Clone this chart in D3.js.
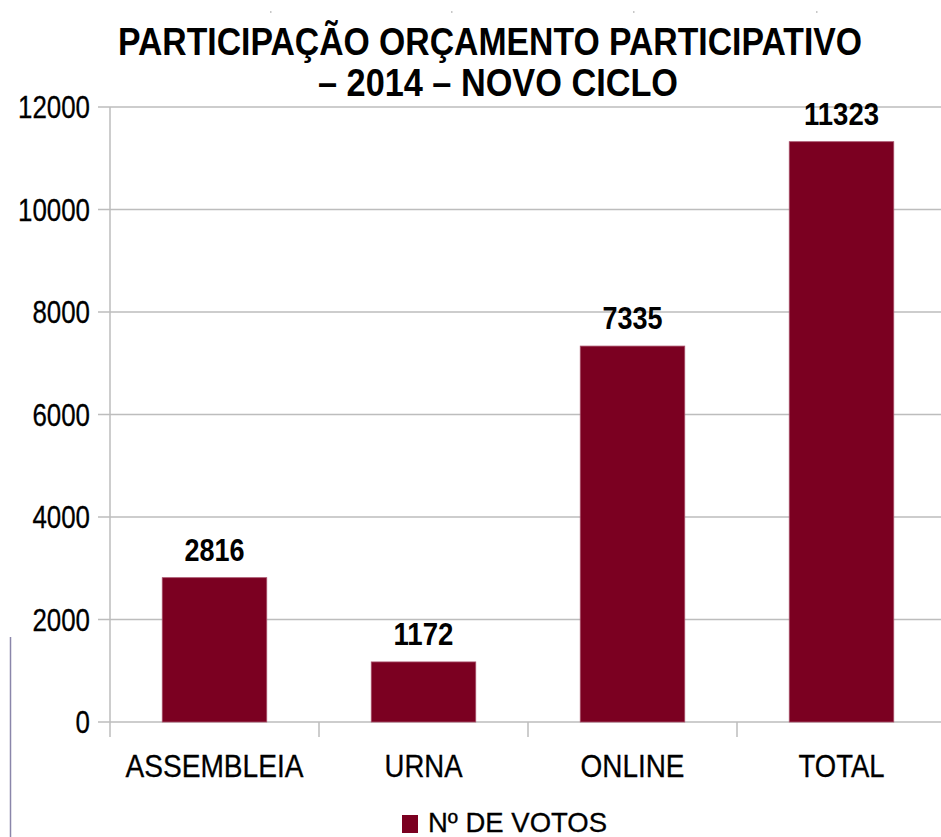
<!DOCTYPE html>
<html><head><meta charset="utf-8">
<script src="https://cdn.jsdelivr.net/npm/d3@7"></script>
<style>body{margin:0;background:#fff;}svg{display:block;font-family:"Liberation Sans",Arial,sans-serif;}</style>
</head><body>
<svg id="c" width="941" height="837"></svg>
<script>
const categories = ["ASSEMBLEIA", "URNA", "ONLINE", "TOTAL"];
const votes = [2816, 1172, 7335, 11323];
const yTicks = [0, 2000, 4000, 6000, 8000, 10000, 12000];
const titleLines = ["PARTICIPAÇÃO ORÇAMENTO PARTICIPATIVO", "– 2014 – NOVO CICLO"];
const seriesName = "Nº DE VOTOS";

const svg = d3.select("#c");
const barColor = "#7b0021";
const gridColor = "#bdbdbd";

const x = d3.scaleBand().domain(categories).range([110, 946]).paddingInner(0.5).paddingOuter(0.25);
const y = d3.scaleLinear().domain([0, 12000]).range([722, 107]);

svg.append("rect").attr("width", 941).attr("height", 837).attr("fill", "#fff");

// faint marks at the top edge (scan artifacts)
svg.append("g").selectAll("rect").data([270, 451, 633, 816]).join("rect")
  .attr("x", d => d).attr("y", 11).attr("width", 1.5).attr("height", 2).attr("fill", "#c8c8c8");

// gridlines
svg.append("g").selectAll("line").data(yTicks).join("line")
  .attr("x1", 98).attr("x2", 941)
  .attr("y1", d => y(d)).attr("y2", d => y(d))
  .attr("stroke", gridColor).attr("stroke-width", 1.5);

// y axis line
svg.append("line").attr("x1", 110).attr("x2", 110).attr("y1", y(12000)).attr("y2", 737)
  .attr("stroke", gridColor).attr("stroke-width", 1.5);

// category separator ticks
const step = x.step();
svg.append("g").selectAll("line").data(categories.slice(1)).join("line")
  .attr("x1", d => x(d) - (x.paddingInner() * step) / 2)
  .attr("x2", d => x(d) - (x.paddingInner() * step) / 2)
  .attr("y1", y(0)).attr("y2", 737)
  .attr("stroke", gridColor).attr("stroke-width", 1.5);

// y tick labels
svg.append("g").selectAll("text").data(yTicks).join("text")
  .attr("x", 90).attr("y", d => y(d) + 11)
  .attr("text-anchor", "end").attr("font-size", 31)
  .attr("textLength", d => String(d).length * 14.4).attr("lengthAdjust", "spacingAndGlyphs")
  .attr("stroke", "#000").attr("stroke-width", 0.3)
  .attr("fill", "#000").text(d => d);

// bars
svg.append("g").selectAll("rect").data(votes).join("rect")
  .attr("x", (d, i) => x(categories[i])).attr("width", x.bandwidth())
  .attr("y", d => y(d)).attr("height", d => y(0) - y(d))
  .attr("fill", barColor).attr("stroke", "#a8506a").attr("stroke-width", 0.8);

// value labels
svg.append("g").selectAll("text").data(votes).join("text")
  .attr("x", (d, i) => x(categories[i]) + x.bandwidth() / 2)
  .attr("y", d => y(d) - 17)
  .attr("text-anchor", "middle").attr("font-size", 31).attr("font-weight", "bold")
  .attr("textLength", d => String(d).length * 15).attr("lengthAdjust", "spacingAndGlyphs")
  .attr("fill", "#000").text(d => d);

// category labels
const catW = {"ASSEMBLEIA": 178, "URNA": 78, "ONLINE": 104, "TOTAL": 86};
svg.append("g").selectAll("text").data(categories).join("text")
  .attr("x", d => x(d) + x.bandwidth() / 2).attr("y", 777)
  .attr("text-anchor", "middle").attr("font-size", 32)
  .attr("textLength", d => catW[d]).attr("lengthAdjust", "spacingAndGlyphs")
  .attr("stroke", "#000").attr("stroke-width", 0.3)
  .attr("fill", "#000").text(d => d);

// title
const tW = [744, 360];
svg.append("g").selectAll("text").data(titleLines).join("text")
  .attr("x", (d, i) => i === 0 ? 490 : 498).attr("y", (d, i) => 55 + i * 41)
  .attr("text-anchor", "middle").attr("font-size", 38).attr("font-weight", "bold")
  .attr("textLength", (d, i) => tW[i]).attr("lengthAdjust", "spacingAndGlyphs")
  .attr("fill", "#000").text(d => d);

// legend
svg.append("rect").attr("x", 402).attr("y", 815).attr("width", 16).attr("height", 18).attr("fill", barColor);
svg.append("text").attr("x", 428).attr("y", 832).attr("font-size", 28)
  .attr("textLength", 179).attr("lengthAdjust", "spacingAndGlyphs")
  .attr("stroke", "#000").attr("stroke-width", 0.3)
  .attr("fill", "#000").text(seriesName);

// left border artifact
svg.append("line").attr("x1", 10.5).attr("x2", 10.5).attr("y1", 637).attr("y2", 837)
  .attr("stroke", "#8a86aa").attr("stroke-width", 1.5);
</script>
</body></html>
